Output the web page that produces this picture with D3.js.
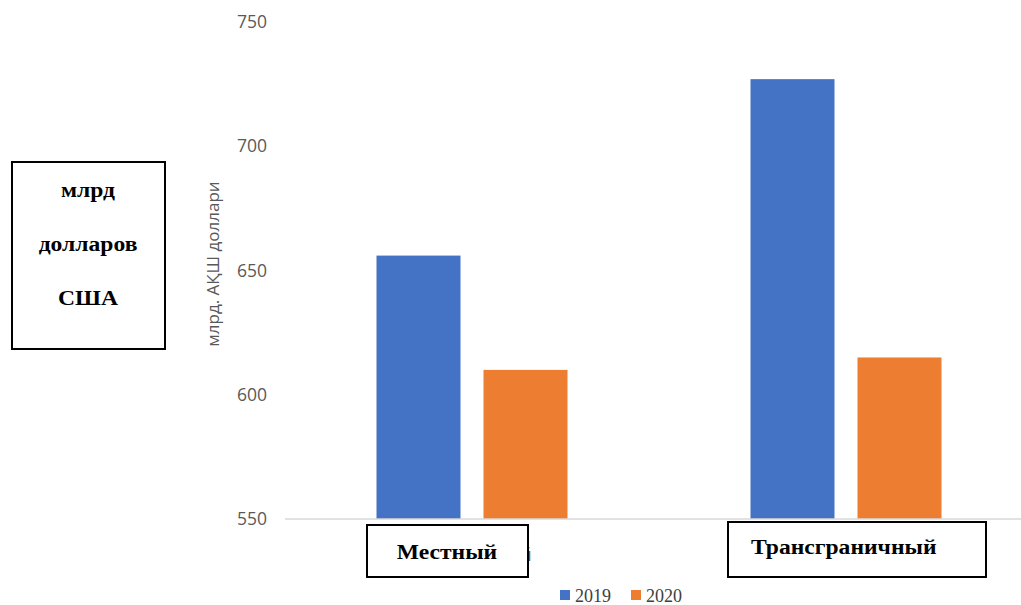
<!DOCTYPE html>
<html lang="ru">
<head>
<meta charset="utf-8">
<title>млрд. АҚШ доллари</title>
<script src="https://cdn.jsdelivr.net/npm/d3@7"></script>
<style>
  body { margin: 0; background: #fff; }
  svg { display: block; }
</style>
</head>
<body>
<svg></svg>
<script>
// data
var categories = ["Внутренний", "Трансграничный"];
var boxLabels = ["Местный", "Трансграничный"];
var years = ["2019", "2020"];
var values2019 = [656, 727];
var values2020 = [610, 615];
var yTicks = [550, 600, 650, 700, 750];

var width = 1021, height = 605;
var colors = ["#4472C4", "#ED7D31"];
var sans = "Open Sans, Liberation Sans, sans-serif";
var serif = "Liberation Serif, Times New Roman, serif";

var svg = d3.select("svg").attr("width", width).attr("height", height);

var x = d3.scaleBand().domain(categories).range([285, 1033]);
var x1 = d3.scaleBand().domain(years).range([0, 191]).paddingInner(0.215);
var y = d3.scaleLinear().domain([550, 750]).range([519, 22]);

// y tick labels
svg.append("g")
  .selectAll("text")
  .data(yTicks)
  .enter().append("text")
  .attr("x", 267)
  .attr("y", function(d) { return y(d); })
  .attr("dy", "0.35em")
  .attr("text-anchor", "end")
  .attr("font-family", sans)
  .attr("font-size", 17.5)
  .attr("fill", "#595959")
  .text(function(d) { return d; });

// axis title
svg.append("text")
  .attr("transform", "translate(219,264) rotate(-90)")
  .attr("text-anchor", "middle")
  .attr("font-family", sans)
  .attr("font-size", 17)
  .attr("fill", "#595959")
  .text("млрд. АҚШ доллари");

// bars
var rows = categories.map(function(c, i) {
  return { cat: c, vals: [values2019[i], values2020[i]] };
});

var groups = svg.selectAll("g.grp")
  .data(rows)
  .enter().append("g")
  .attr("class", "grp")
  .attr("transform", function(d) {
    return "translate(" + (x(d.cat) + x.bandwidth() / 2 - 95.5) + ",0)";
  });

groups.selectAll("rect")
  .data(function(d) { return d.vals; })
  .enter().append("rect")
  .attr("x", function(d, i) { return x1(years[i]); })
  .attr("width", x1.bandwidth())
  .attr("y", function(d) { return y(d); })
  .attr("height", function(d) { return y(550) - y(d); })
  .attr("fill", function(d, i) { return colors[i]; });

// baseline
svg.append("line")
  .attr("x1", 285).attr("x2", width)
  .attr("y1", y(550)).attr("y2", y(550))
  .attr("stroke", "#d9d9d9")
  .attr("stroke-width", 1.5);

// category labels (underneath the boxes)
svg.append("g")
  .selectAll("text")
  .data(categories)
  .enter().append("text")
  .attr("x", function(d) { return x(d) + x.bandwidth() / 2 + 6; })
  .attr("y", 561)
  .attr("text-anchor", "middle")
  .attr("font-family", sans)
  .attr("font-size", 18)
  .attr("fill", "#595959")
  .text(function(d) { return d; });

// overlay boxes
function box(x0, y0, w, h) {
  svg.append("rect")
    .attr("x", x0).attr("y", y0)
    .attr("width", w).attr("height", h)
    .attr("fill", "#fff")
    .attr("stroke", "#000")
    .attr("stroke-width", 2);
}
// wide bold serif, like the stretched labels in the picture
function wideText(tx, ty, str, anchor) {
  svg.append("text")
    .attr("transform", "translate(" + tx + "," + ty + ") scale(1.18,1)")
    .attr("text-anchor", anchor)
    .attr("font-family", serif).attr("font-weight", "bold").attr("font-size", 20)
    .text(str);
}

box(367, 525, 161, 52);
wideText(447, 559, boxLabels[0], "middle");

box(728, 522, 258, 55);
wideText(751, 554, boxLabels[1], "start");

box(12, 162, 153, 187);
var unitLines = ["млрд", "долларов", "США"];
unitLines.forEach(function(s, i) {
  wideText(88, 197 + i * 54, s, "middle");
});

// legend
var legend = svg.append("g")
  .selectAll("g")
  .data(years)
  .enter().append("g")
  .attr("transform", function(d, i) { return "translate(" + (560 + i * 71) + ",590)"; });
legend.append("rect")
  .attr("width", 10).attr("height", 10)
  .attr("fill", function(d, i) { return colors[i]; });
legend.append("text")
  .attr("x", 15).attr("y", 12)
  .attr("font-family", serif).attr("font-size", 18)
  .attr("fill", "#404040")
  .text(function(d) { return d; });
</script>
</body>
</html>
